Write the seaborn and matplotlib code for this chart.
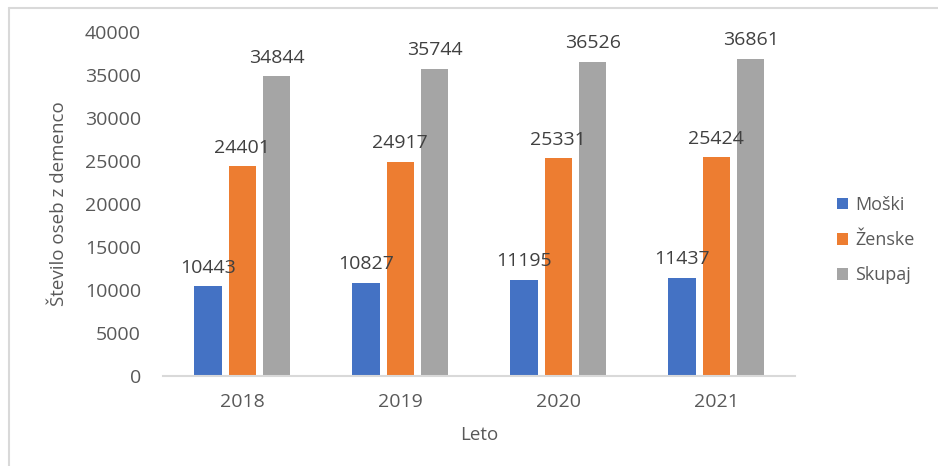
import pandas as pd
import matplotlib
matplotlib.use("Agg")
import matplotlib.pyplot as plt
import seaborn as sns
from matplotlib.lines import Line2D

# Data
years = ["2018", "2019", "2020", "2021"]
moski = [10443, 10827, 11195, 11437]
zenske = [24401, 24917, 25331, 25424]
skupaj = [34844, 35744, 36526, 36861]
series_names = ["Moški", "Ženske", "Skupaj"]
colors = ["#4472C4", "#ED7D31", "#A5A5A5"]

df = pd.DataFrame({
    "Leto": years * 3,
    "Skupina": [n for n in series_names for _ in years],
    "Vrednost": moski + zenske + skupaj,
})

sns.set_theme(style="white")
plt.rcParams["font.family"] = ["Open Sans", "DejaVu Sans"]

fig, ax = plt.subplots(figsize=(9.38, 4.66), dpi=100)
fig.subplots_adjust(left=0.174, right=0.848, top=0.931, bottom=0.193)

sns.barplot(data=df, x="Leto", y="Vrednost", hue="Skupina",
            palette=colors, width=0.65, gap=0.2, ax=ax, saturation=1,
            linewidth=0)

# value labels above bars
for c in ax.containers:
    ax.bar_label(c, fmt="%d", padding=7, fontsize=14, color="#404040")

ax.set_ylim(0, 40000)
ax.set_yticks(range(0, 40001, 5000))
ax.set_xlim(-0.5, 3.5)
ax.tick_params(axis="both", length=0, labelsize=14, labelcolor="#595959")
ax.tick_params(axis="y", pad=16)
ax.tick_params(axis="x", pad=12)

for s in ["top", "right", "left"]:
    ax.spines[s].set_visible(False)
ax.spines["bottom"].set_color("#D9D9D9")
ax.spines["bottom"].set_linewidth(1.5)

ax.set_xlabel("Leto", fontsize=13.5, color="#595959", labelpad=11)
ax.set_ylabel("Število oseb z demenco", fontsize=13.5, color="#595959", labelpad=12)

leg = ax.legend(loc="center left", bbox_to_anchor=(1.04, 0.395), frameon=False,
                fontsize=13, handlelength=0.6, handleheight=0.6,
                labelspacing=0.95, handletextpad=0.4)
for t in leg.get_texts():
    t.set_color("#595959")

# light frame on the left and top edge, as in the reference
fig.add_artist(Line2D([0.0096, 0.0096], [0, 0.982], transform=fig.transFigure,
                      color="#D9D9D9", lw=1.5))
fig.add_artist(Line2D([0.0096, 1], [0.982, 0.982], transform=fig.transFigure,
                      color="#D9D9D9", lw=1.5))

fig.savefig("out.png", dpi=100, facecolor="white")
